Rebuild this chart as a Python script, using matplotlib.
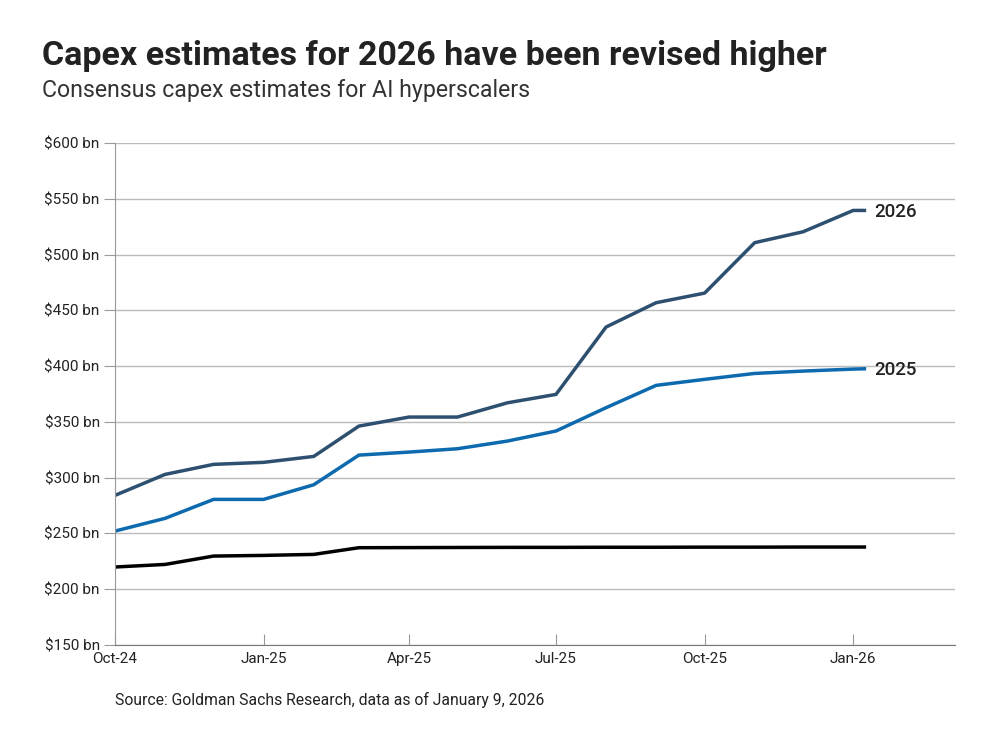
import numpy as np
import pandas as pd
import matplotlib.pyplot as plt
import matplotlib.dates as mdates
from matplotlib.ticker import FuncFormatter

plt.rcParams['font.family'] = ['Roboto', 'DejaVu Sans']

# data (consensus capex estimates, $ bn)
dates = pd.to_datetime([
    '2024-10-01', '2024-11-01', '2024-12-01', '2025-01-01', '2025-02-01',
    '2025-03-01', '2025-04-01', '2025-05-01', '2025-06-01', '2025-07-01',
    '2025-08-01', '2025-09-01', '2025-10-01', '2025-11-01', '2025-12-01',
    '2026-01-01', '2026-01-09'])
capex_2026 = [284.1, 302.9, 311.9, 313.7, 319.0, 346.2, 354.3, 354.3, 367.1,
              374.6, 435.0, 456.8, 465.4, 510.6, 520.4, 539.5, 539.5]
capex_2025 = [252.1, 263.5, 280.5, 280.5, 293.6, 320.2, 322.9, 325.9, 332.8,
              341.8, 362.7, 382.7, 388.1, 393.4, 395.5, 397.3, 397.6]
capex_other = [219.9, 222.2, 229.7, 230.3, 231.2, 237.2, 237.3, 237.4, 237.5,
               237.5, 237.6, 237.6, 237.7, 237.7, 237.8, 237.8, 237.8]

tick_dates = pd.to_datetime(['2024-10-01', '2025-01-01', '2025-04-01',
                             '2025-07-01', '2025-10-01', '2026-01-01'])
tick_labels = ['Oct-24', 'Jan-25', 'Apr-25', 'Jul-25', 'Oct-25', 'Jan-26']

fig = plt.figure(figsize=(10, 7.46), dpi=100)
ax = fig.add_axes([0.115, 0.1354, 0.84, 0.673])

ax.plot(dates, capex_other, color='black', lw=2.5, solid_capstyle='butt')
ax.plot(dates, capex_2025, color='#0d6aae', lw=2.5, solid_capstyle='butt')
ax.plot(dates, capex_2026, color='#2e5070', lw=2.5, solid_capstyle='butt')

ax.text(dates[-1] + pd.Timedelta(days=5), capex_2026[-1] - 1.5, '2026',
        fontsize=13.5, fontweight='medium', va='center', ha='left', color='#222222')
ax.text(dates[-1] + pd.Timedelta(days=5), capex_2025[-1] - 1.5, '2025',
        fontsize=13.5, fontweight='medium', va='center', ha='left', color='#222222')

ax.set_ylim(150, 600)
ax.set_yticks(np.arange(150, 601, 50))
ax.yaxis.set_major_formatter(FuncFormatter(lambda v, p: f'${v:.0f} bn'))
ax.set_xlim(pd.Timestamp('2024-10-01'), pd.Timestamp('2026-03-05'))
ax.set_xticks(tick_dates)
ax.set_xticklabels(tick_labels)

ax.grid(axis='y', color='#bbbbbb', lw=1)
ax.set_axisbelow(True)
for s in ['top', 'right']:
    ax.spines[s].set_visible(False)
ax.spines['left'].set_color('#999999')
ax.spines['bottom'].set_color('#777777')
ax.tick_params(axis='y', length=8, color='#999999', labelsize=11,
               labelcolor='#222222', pad=3)
ax.tick_params(axis='x', direction='in', length=8, color='#999999',
               labelsize=11, labelcolor='#222222', pad=5)

fig.text(0.042, 0.925, 'Capex estimates for 2026 have been revised higher',
         fontsize=24.5, fontweight='bold', color='#222222', va='center')
fig.text(0.042, 0.879, 'Consensus capex estimates for AI hyperscalers',
         fontsize=16.7, color='#333333', va='center')
fig.text(0.115, 0.062, 'Source: Goldman Sachs Research, data as of January 9, 2026',
         fontsize=11.3, color='#222222', va='center')

fig.savefig('out.png', dpi=100)
